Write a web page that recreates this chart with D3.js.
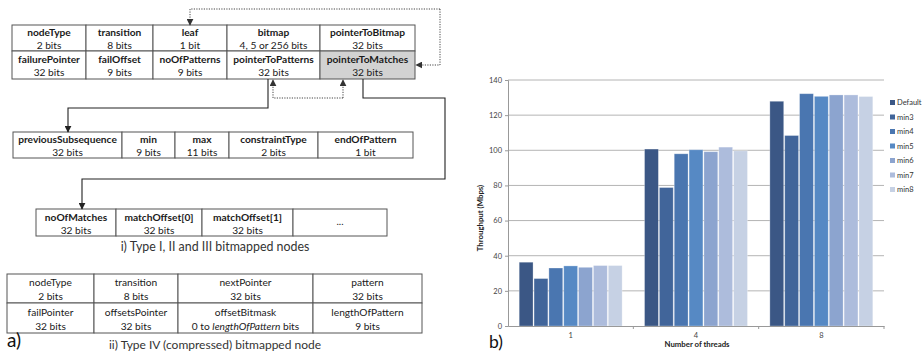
<!DOCTYPE html>
<html>
<head>
<meta charset="utf-8">
<script src="https://cdn.jsdelivr.net/npm/d3@7/dist/d3.min.js"></script>
<style>
  body { margin: 0; background: #fff; }
  svg { display: block; font-family: Lato, "Liberation Sans", sans-serif; }
</style>
</head>
<body>
<div id="fig"></div>
<script>
// ---- chart data (panel b) ----
const threads = ["1", "4", "8"];
const series = ["Default", "min3", "min4", "min5", "min6", "min7", "min8"];
const colors = ["#3b5785", "#41659a", "#4a76b0", "#5689c4", "#8ca4cf", "#adbcdc", "#c6d1e4"];
const valDefault = [36.3, 100.7, 127.9];
const valMin3 = [27.0, 78.8, 108.4];
const valMin4 = [33.0, 98.0, 132.2];
const valMin5 = [34.2, 100.3, 130.7];
const valMin6 = [33.4, 99.2, 131.5];
const valMin7 = [34.4, 101.8, 131.5];
const valMin8 = [34.4, 99.7, 130.6];
const yTicks = [0, 20, 40, 60, 80, 100, 120, 140];

// ---- diagram text (panel a) ----
const t1Names = [["nodeType", "transition", "leaf", "bitmap", "pointerToBitmap"],
                 ["failurePointer", "failOffset", "noOfPatterns", "pointerToPatterns", "pointerToMatches"]];
const t1Bits = [["2 bits", "8 bits", "1 bit", "4, 5 or 256 bits", "32 bits"],
                ["32 bits", "9 bits", "9 bits", "32 bits", "32 bits"]];
const t2Names = [["previousSubsequence", "min", "max", "constraintType", "endOfPattern"]];
const t2Bits = [["32 bits", "9 bits", "11 bits", "2 bits", "1 bit"]];
const t3Names = [["noOfMatches", "matchOffset[0]", "matchOffset[1]", ""]];
const t3Bits = [["32 bits", "32 bits", "32 bits", ""]];
const t4Names = [["nodeType", "transition", "nextPointer", "pattern"],
                 ["failPointer", "offsetsPointer", "offsetBitmask", "lengthOfPattern"]];
const t4Bits = [["2 bits", "8 bits", "32 bits", "32 bits"],
                ["32 bits", "32 bits", "0 to |lengthOfPattern| bits", "9 bits"]];
const caption1 = "i) Type I, II and III bitmapped nodes";
const caption2 = "ii) Type IV (compressed) bitmapped node";

const W = 922, H = 352;
const svg = d3.select("#fig").append("svg").attr("width", W).attr("height", H);

const defs = svg.append("defs");
function marker(id, color) {
    defs.append("marker").attr("id", id)
        .attr("viewBox", "0 0 10 10").attr("refX", 9).attr("refY", 5)
        .attr("markerWidth", 7).attr("markerHeight", 7)
        .attr("markerUnits", "userSpaceOnUse")
        .attr("orient", "auto")
        .append("path").attr("d", "M0,0 L10,5 L0,10 z").attr("fill", color);
}
marker("arrS", "#222");
marker("arrD", "#333");

// ---------- panel a: tables ----------
function drawTable(xs, ys, names, bits, boldNames, shaded) {
    const g = svg.append("g");
    names.forEach((row, r) => {
        row.forEach((name, c) => {
            const x0 = xs[c], x1 = xs[c + 1], y0 = ys[r], y1 = ys[r + 1];
            const isShade = shaded && shaded[0] === r && shaded[1] === c;
            g.append("rect").attr("x", x0).attr("y", y0)
                .attr("width", x1 - x0).attr("height", y1 - y0)
                .attr("fill", isShade ? "#d2d2d2" : "#fff")
                .attr("stroke", "#555").attr("stroke-width", 1);
            const cx = (x0 + x1) / 2, h = y1 - y0;
            if (name === "" && bits[r][c] === "") {
                g.append("text").attr("x", cx).attr("y", y0 + h / 2 + 2)
                    .attr("text-anchor", "middle").attr("font-size", 10)
                    .attr("fill", "#222").text("...");
                return;
            }
            g.append("text").attr("x", cx).attr("y", y0 + h * 0.3 + 3.6)
                .attr("text-anchor", "middle").attr("font-size", 10.2)
                .attr("font-weight", boldNames ? "bold" : "normal")
                .attr("fill", "#1a1a1a").text(name);
            const bt = g.append("text").attr("x", cx).attr("y", y0 + h * 0.78 + 3.6)
                .attr("text-anchor", "middle").attr("font-size", 10.2)
                .attr("fill", "#1a1a1a");
            bits[r][c].split("|").forEach((part, i) => {
                bt.append("tspan").attr("font-style", i === 1 ? "italic" : "normal").text(part);
            });
        });
    });
}

drawTable([12, 86, 153, 227, 320, 415], [25, 51, 79], t1Names, t1Bits, true, [1, 4]);
drawTable([13, 122, 175, 229, 318, 413], [132, 158], t2Names, t2Bits, true, null);
drawTable([36, 116, 202, 293, 387], [209, 236], t3Names, t3Bits, true, null);
drawTable([7, 94, 178, 313, 422], [274, 303, 333], t4Names, t4Bits, false, null);

// connectors
const line = d3.line();
function conn(pts, dotted) {
    svg.append("path").attr("d", line(pts)).attr("fill", "none")
        .attr("stroke", dotted ? "#444" : "#222")
        .attr("stroke-width", dotted ? 1 : 1.1)
        .attr("stroke-dasharray", dotted ? "1.2,1.3" : null)
        .attr("marker-end", "url(#" + (dotted ? "arrD" : "arrS") + ")");
}
// dotted links carry an arrow at both ends: draw as two halves
function dotted2(pts) {
    const mid = Math.floor(pts.length / 2);
    conn(pts.slice(0, mid + 1).reverse(), true);
    conn(pts.slice(mid), true);
}
dotted2([[190, 25], [190, 9], [440, 9], [440, 65], [416, 65]]);
dotted2([[273, 80], [273, 98], [343, 98], [343, 80]]);
conn([[268, 79], [268, 108], [68, 108], [68, 132]], false);
conn([[363, 79], [363, 98], [445, 98], [445, 179], [82, 179], [82, 209]], false);

svg.append("text").attr("x", 215).attr("y", 251).attr("text-anchor", "middle")
    .attr("font-size", 12.4).attr("fill", "#333").text(caption1);
svg.append("text").attr("x", 215).attr("y", 349).attr("text-anchor", "middle")
    .attr("font-size", 12).attr("fill", "#333").text(caption2);
svg.append("text").attr("x", 7).attr("y", 347).attr("font-size", 19)
    .attr("fill", "#111").text("a)");

// ---------- panel b: bar chart ----------
const values = [valDefault, valMin3, valMin4, valMin5, valMin6, valMin7, valMin8];
const plot = {left: 508, right: 884, top: 80, bottom: 326};

const y = d3.scaleLinear().domain([0, 140]).range([plot.bottom, plot.top]);
const x0 = d3.scaleBand().domain(threads).range([plot.left, plot.right]);
const pad = 10.7;
const x1 = d3.scaleBand().domain(series).range([pad, x0.bandwidth() - pad]);
const color = d3.scaleOrdinal().domain(series).range(colors);

const chart = svg.append("g");

// gridlines
chart.append("g").selectAll("line").data(yTicks.filter(d => d > 0)).join("line")
    .attr("x1", plot.left).attr("x2", plot.right)
    .attr("y1", d => y(d)).attr("y2", d => y(d))
    .attr("stroke", "#b4b4b4").attr("stroke-width", 1);

// y axis
const yAxis = chart.append("g").attr("transform", `translate(${plot.left},0)`)
    .call(d3.axisLeft(y).tickValues(yTicks).tickSize(3).tickPadding(3));
yAxis.select(".domain").attr("stroke", "#999");
yAxis.selectAll(".tick line").attr("stroke", "#999");
yAxis.selectAll(".tick text").attr("font-size", 7.5).attr("fill", "#444")
    .attr("font-family", "Lato, sans-serif");

// bars
const groups = chart.append("g").selectAll("g").data(threads).join("g")
    .attr("transform", d => `translate(${x0(d)},0)`);
groups.selectAll("rect")
    .data((d, i) => series.map((s, k) => ({s, v: values[k][i]})))
    .join("rect")
    .attr("x", d => x1(d.s) + 0.5)
    .attr("width", x1.bandwidth() - 1)
    .attr("y", d => y(d.v))
    .attr("height", d => y(0) - y(d.v))
    .attr("fill", d => color(d.s))
    .attr("stroke", "rgba(255,255,255,0.35)").attr("stroke-width", 0.8);

// x axis
const xAxis = chart.append("g").attr("transform", `translate(0,${plot.bottom})`)
    .call(d3.axisBottom(x0).tickSize(0).tickPadding(7));
xAxis.select(".domain").attr("stroke", "#999");
xAxis.selectAll(".tick text").attr("font-size", 7.5).attr("fill", "#444")
    .attr("font-family", "Lato, sans-serif");
chart.append("g").selectAll("line").data(threads.slice(1).concat(["end"])).join("line")
    .attr("x1", d => d === "end" ? plot.right : x0(d))
    .attr("x2", d => d === "end" ? plot.right : x0(d))
    .attr("y1", plot.bottom).attr("y2", plot.bottom + 3)
    .attr("stroke", "#999");

chart.append("text").attr("x", 697).attr("y", 347).attr("text-anchor", "middle")
    .attr("font-size", 7.8).attr("font-weight", "bold").attr("fill", "#222")
    .text("Number of threads");
chart.append("text").attr("transform", "translate(483,218) rotate(-90)")
    .attr("text-anchor", "middle").attr("font-size", 7.8).attr("font-weight", "bold")
    .attr("fill", "#222").text("Throughput (Mbps)");

// legend
const leg = chart.append("g").selectAll("g").data(series).join("g")
    .attr("transform", (d, i) => `translate(890,${103 + i * 14.5})`);
leg.append("rect").attr("x", 0).attr("y", -3).attr("width", 5).attr("height", 5)
    .attr("fill", d => color(d));
leg.append("text").attr("x", 7).attr("y", 2).attr("font-size", 7.5)
    .attr("fill", "#333").text(d => d);

svg.append("text").attr("x", 489).attr("y", 348).attr("font-size", 17.5)
    .attr("fill", "#111").text("b)");
</script>
</body>
</html>
